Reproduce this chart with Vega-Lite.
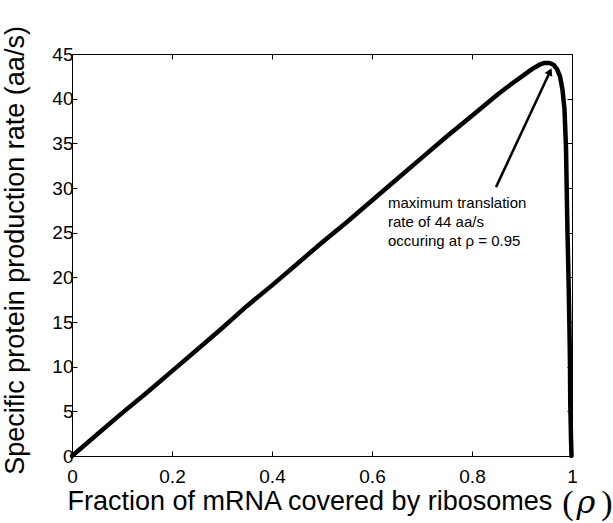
{
  "$schema": "https://vega.github.io/schema/vega-lite/v6.json",
  "width": 500,
  "height": 402,
  "autosize": {"type": "none"},
  "padding": {"left": 72, "top": 54, "right": 41, "bottom": 67},
  "background": "white",
  "config": {
    "view": {"stroke": "black", "strokeWidth": 1},
    "font": "Liberation Sans",
    "axis": {
      "grid": false,
      "domainColor": "black",
      "tickColor": "black",
      "labelColor": "black",
      "titleColor": "black",
      "labelFont": "Liberation Sans",
      "titleFont": "Liberation Sans",
      "labelFontSize": 19,
      "titleFontSize": 27,
      "titleFontWeight": "normal",
      "tickSize": -5,
      "labelFlush": false,
      "labelOverlap": false
    }
  },
  "datasets": {
    "curve": [
      {"rho": 0, "rate": 0},
      {"rho": 0.05, "rate": 2.4},
      {"rho": 0.1, "rate": 4.8},
      {"rho": 0.15, "rate": 7.1},
      {"rho": 0.2, "rate": 9.5},
      {"rho": 0.25, "rate": 11.9},
      {"rho": 0.3, "rate": 14.3},
      {"rho": 0.35, "rate": 16.8},
      {"rho": 0.4, "rate": 19.1},
      {"rho": 0.45, "rate": 21.5},
      {"rho": 0.5, "rate": 23.9},
      {"rho": 0.55, "rate": 26.2},
      {"rho": 0.6, "rate": 28.6},
      {"rho": 0.65, "rate": 31.0},
      {"rho": 0.7, "rate": 33.4},
      {"rho": 0.75, "rate": 35.8},
      {"rho": 0.8, "rate": 38.1},
      {"rho": 0.85, "rate": 40.4},
      {"rho": 0.88, "rate": 41.7},
      {"rho": 0.9, "rate": 42.5},
      {"rho": 0.92, "rate": 43.3},
      {"rho": 0.935, "rate": 43.8},
      {"rho": 0.945, "rate": 44.0},
      {"rho": 0.955, "rate": 44.0},
      {"rho": 0.963, "rate": 43.8},
      {"rho": 0.97, "rate": 43.3},
      {"rho": 0.976, "rate": 42.5},
      {"rho": 0.981, "rate": 41.0},
      {"rho": 0.985, "rate": 38.8},
      {"rho": 0.988, "rate": 34.5},
      {"rho": 0.99, "rate": 28},
      {"rho": 0.991, "rate": 25},
      {"rho": 0.993, "rate": 20},
      {"rho": 0.995, "rate": 14},
      {"rho": 0.996, "rate": 10},
      {"rho": 0.9965, "rate": 6},
      {"rho": 0.998, "rate": 2},
      {"rho": 0.999, "rate": 0}
    ],
    "arrow": [{"x1": 0.848, "y1": 30.1, "x2": 0.955, "y2": 42.9}],
    "head": [{"x": 0.956, "y": 43.03}],
    "note": [{"x": 0.632, "y": 29.1, "t": "maximum translation\nrate of 44 aa/s\noccuring at ρ = 0.95"}],
    "paren": [
      {"x": 1, "y": 0, "t": "(", "k": "l"},
      {"x": 1, "y": 0, "t": ")", "k": "r"}
    ],
    "rho": [{"x": 1, "y": 0, "t": "ρ"}]
  },
  "layer": [
    {
      "data": {"name": "curve"},
      "mark": {"type": "line", "color": "black", "strokeWidth": 4.5, "strokeJoin": "round", "strokeCap": "round"},
      "encoding": {
        "x": {
          "field": "rho", "type": "quantitative",
          "scale": {"domain": [0, 1], "nice": false},
          "axis": {
            "orient": "bottom",
            "values": [0, 0.2, 0.4, 0.6, 0.8, 1],
            "format": "~g",
            "labelPadding": 16,
            "title": "Fraction of mRNA covered by ribosomes",
            "titleAnchor": "start",
            "titleAlign": "left",
            "titleBaseline": "top",
            "titleX": -5,
            "titleY": 32
          }
        },
        "y": {
          "field": "rate", "type": "quantitative",
          "scale": {"domain": [0, 45], "nice": false},
          "axis": {
            "orient": "left",
            "values": [0, 5, 10, 15, 20, 25, 30, 35, 40, 45],
            "format": "d",
            "labelPadding": 4,
            "title": "Specific protein production rate (aa/s)",
            "titleBaseline": "alphabetic",
            "titleX": -49,
            "titleY": 196
          }
        }
      }
    },
    {
      "data": {"name": "arrow"},
      "mark": {"type": "rule", "color": "black", "strokeWidth": 2.5},
      "encoding": {
        "x": {"field": "x1", "type": "quantitative", "axis": {"orient": "top", "values": [0, 0.2, 0.4, 0.6, 0.8, 1], "labels": false, "title": null, "domain": false}},
        "y": {"field": "y1", "type": "quantitative", "axis": {"orient": "right", "values": [0, 5, 10, 15, 20, 25, 30, 35, 40, 45], "labels": false, "title": null, "domain": false}},
        "x2": {"field": "x2"},
        "y2": {"field": "y2"}
      }
    },
    {
      "data": {"name": "head"},
      "mark": {"type": "point", "shape": "triangle-up", "filled": true, "color": "black", "opacity": 1, "size": 70, "angle": 25},
      "encoding": {
        "x": {"field": "x", "type": "quantitative", "axis": null},
        "y": {"field": "y", "type": "quantitative", "axis": null}
      }
    },
    {
      "data": {"name": "note"},
      "mark": {"type": "text", "align": "left", "baseline": "top", "fontSize": 15, "font": "Liberation Sans", "lineBreak": "\n", "lineHeight": 19, "color": "black"},
      "encoding": {
        "x": {"field": "x", "type": "quantitative", "axis": null},
        "y": {"field": "y", "type": "quantitative", "axis": null},
        "text": {"field": "t"}
      }
    },
    {
      "data": {"name": "paren"},
      "transform": [{"filter": "datum.k == 'l'"}],
      "mark": {"type": "text", "align": "center", "baseline": "middle", "fontSize": 34, "font": "Liberation Serif", "dx": -4, "dy": 48, "clip": false, "color": "black"},
      "encoding": {
        "x": {"field": "x", "type": "quantitative", "axis": null},
        "y": {"field": "y", "type": "quantitative", "axis": null},
        "text": {"field": "t"}
      }
    },
    {
      "data": {"name": "paren"},
      "transform": [{"filter": "datum.k == 'r'"}],
      "mark": {"type": "text", "align": "center", "baseline": "middle", "fontSize": 34, "font": "Liberation Serif", "dx": 35, "dy": 48, "clip": false, "color": "black"},
      "encoding": {
        "x": {"field": "x", "type": "quantitative", "axis": null},
        "y": {"field": "y", "type": "quantitative", "axis": null},
        "text": {"field": "t"}
      }
    },
    {
      "data": {"name": "rho"},
      "mark": {"type": "text", "align": "center", "baseline": "alphabetic", "fontSize": 32, "font": "DejaVu Serif", "fontStyle": "italic", "dx": 14, "dy": 57, "clip": false, "color": "black"},
      "encoding": {
        "x": {"field": "x", "type": "quantitative", "axis": null},
        "y": {"field": "y", "type": "quantitative", "axis": null},
        "text": {"field": "t"}
      }
    }
  ],
  "resolve": {"axis": {"x": "independent", "y": "independent"}}
}
